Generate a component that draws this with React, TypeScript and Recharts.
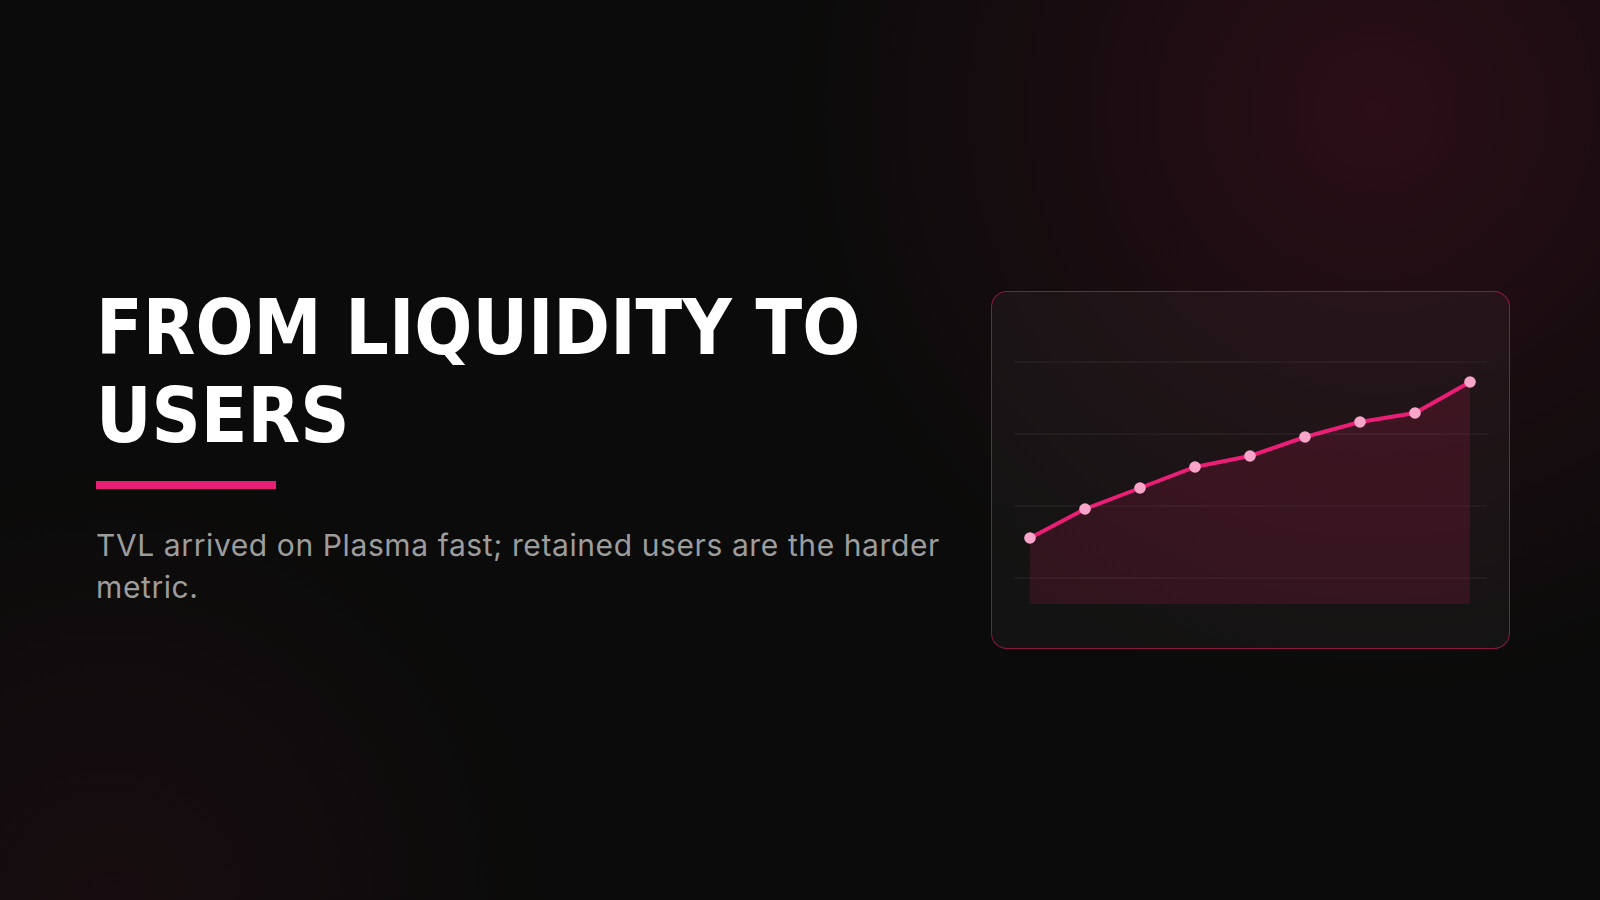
import React from 'react';
import { AreaChart, Area, XAxis, YAxis, ReferenceLine } from 'recharts';

const periods = ['P1', 'P2', 'P3', 'P4', 'P5', 'P6', 'P7', 'P8', 'P9'];
const tvlValues = [33, 47.5, 58, 68.5, 74, 83.5, 91, 95.5, 111];
const gridTicks = [13, 49, 85, 121];
const yDomain: [number, number] = [0, 130];
const titleLines = ['FROM LIQUIDITY TO', 'USERS'];
const subtitleLines = ['TVL arrived on Plasma fast; retained users are the harder', 'metric.'];

const data = periods.map((p, i) => ({ period: p, value: tvlValues[i] }));

const PINK = '#e91e74';

export default function App() {
  return (
    <div
      style={{
        position: 'absolute',
        left: 0,
        top: 0,
        width: 1600,
        height: 900,
        overflow: 'hidden',
        background:
          'radial-gradient(circle at 1375px 110px, rgba(233,30,99,0.15) 0px, rgba(233,30,99,0.07) 280px, rgba(233,30,99,0) 600px), radial-gradient(circle at 110px 900px, rgba(233,30,99,0.06) 0px, rgba(233,30,99,0) 460px), #0a0b0a',
      }}
    >
      <div
        style={{
          position: 'absolute',
          left: 96,
          top: 284,
          fontFamily: "'DejaVu Sans Condensed', 'DejaVu Sans', sans-serif",
          fontStretch: 'condensed',
          fontWeight: 700,
          fontSize: 76,
          lineHeight: '88px',
          color: '#ffffff',
          whiteSpace: 'nowrap',
        }}
      >
        {titleLines.map((t) => (
          <div key={t}>{t}</div>
        ))}
      </div>
      <div
        style={{
          position: 'absolute',
          left: 96,
          top: 481,
          width: 180,
          height: 8,
          background: PINK,
        }}
      />
      <div
        style={{
          position: 'absolute',
          left: 96,
          top: 523.75,
          fontFamily: 'Inter, sans-serif',
          fontSize: 30,
          letterSpacing: '0.6px',
          lineHeight: '42px',
          color: '#9d9d9d',
          whiteSpace: 'nowrap',
        }}
      >
        {subtitleLines.map((t) => (
          <div key={t}>{t}</div>
        ))}
      </div>
      <div
        style={{
          position: 'absolute',
          left: 991,
          top: 291,
          width: 519,
          height: 358,
          boxSizing: 'border-box',
          border: '1.5px solid rgba(233,30,99,0.55)',
          borderRadius: 16,
          background: 'rgba(255,255,255,0.037)',
        }}
      />
      <div style={{ position: 'absolute', left: 1014, top: 314 }}>
        <AreaChart width={473} height={312} data={data} margin={{ top: 30, right: 0, bottom: 22, left: 0 }}>
          <XAxis dataKey="period" hide padding={{ left: 16, right: 17 }} />
          <YAxis hide domain={yDomain} ticks={gridTicks} />
          {gridTicks.map((v) => (
            <ReferenceLine key={v} y={v} stroke="rgba(255,255,255,0.08)" strokeWidth={1} ifOverflow="extendDomain" />
          ))}
          <Area
            type="linear"
            dataKey="value"
            stroke={PINK}
            strokeWidth={4}
            fill="#e91e63"
            fillOpacity={0.14}
            dot={{ r: 5.8, fill: '#f7a6c9', fillOpacity: 1, stroke: 'none', strokeWidth: 0 }}
            activeDot={false}
            isAnimationActive={false}
          />
        </AreaChart>
      </div>
    </div>
  );
}
